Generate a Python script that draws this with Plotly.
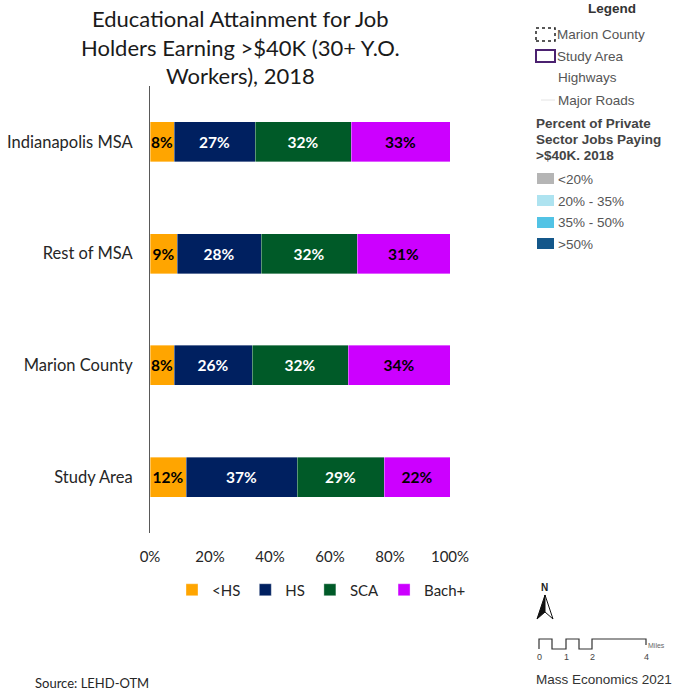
import plotly.graph_objects as go

# ---- data -------------------------------------------------------------
areas = ["Indianapolis MSA", "Rest of MSA", "Marion County", "Study Area"]
less_hs = [8, 9, 8, 12]
hs = [27, 28, 26, 37]
sca = [32, 32, 32, 29]
bach_plus = [33, 31, 34, 22]
x_ticks = [0, 20, 40, 60, 80, 100]
x_tick_labels = ["0%", "20%", "40%", "60%", "80%", "100%"]

series = [
    ("<HS", less_hs, "#FFA500", "#000000"),
    ("HS", hs, "#002060", "#FFFFFF"),
    ("SCA", sca, "#005A28", "#FFFFFF"),
    ("Bach+", bach_plus, "#CC00FF", "#000000"),
]

# ---- page geometry ----------------------------------------------------
W, H = 686, 692
ML, MR, MT, MB = 150, 236, 86, 159
PW, PH = W - ML - MR, H - MT - MB


def fx(x):
    return (x - ML) / PW


def fy(y):
    return (H - MB - y) / PH


BODY = "Lato, 'Open Sans', sans-serif"
MAPFONT = "'Liberation Sans', Arial, sans-serif"

fig = go.Figure()
for name, vals, color, tcolor in series:
    fig.add_trace(go.Bar(
        name=name,
        y=areas,
        x=vals,
        orientation="h",
        marker=dict(color=color, line=dict(color="rgba(255,255,255,0.6)", width=0.6)),
        text=[f"{v}%" for v in vals],
        textposition="inside",
        insidetextanchor="middle",
        textangle=0,
        constraintext="none",
        textfont=dict(family=BODY, size=15.5, color=tcolor, weight="bold"),
        hoverinfo="skip",
    ))

fig.update_layout(
    width=W, height=H,
    margin=dict(l=ML, r=MR, t=MT, b=MB, autoexpand=False),
    barmode="stack",
    bargap=0.64,
    plot_bgcolor="white",
    paper_bgcolor="white",
    font=dict(family=BODY, size=15, color="#262626"),
    showlegend=True,
    legend=dict(
        orientation="h",
        x=fx(172), xanchor="left",
        y=fy(590), yanchor="middle",
        font=dict(family=BODY, size=15, color="#262626"),
        itemwidth=30,
        traceorder="normal",
        bgcolor="rgba(0,0,0,0)",
    ),
)

fig.update_xaxes(
    range=[0, 100],
    tickvals=x_ticks,
    ticktext=x_tick_labels,
    showgrid=False,
    zeroline=False,
    showline=False,
    ticks="outside", ticklen=10, tickcolor="rgba(0,0,0,0)",
    tickfont=dict(family=BODY, size=15, color="#262626"),
    automargin=False,
    fixedrange=True,
)
fig.update_yaxes(
    autorange="reversed",
    showgrid=False,
    showline=True, linecolor="#595959", linewidth=1,
    ticks="outside", ticklen=13, tickcolor="rgba(0,0,0,0)",
    tickfont=dict(family=BODY, size=16.5, color="#262626"),
    automargin=False,
    fixedrange=True,
)

ann = []
shp = []


def note(txt, x, y, size, color, family=BODY, bold=False, anchor="left", yanchor="middle"):
    ann.append(dict(
        text=txt, xref="paper", yref="paper", x=fx(x), y=fy(y),
        xanchor=anchor, yanchor=yanchor, showarrow=False,
        align="center" if anchor == "center" else "left",
        font=dict(family=family, size=size, color=color,
                  weight="bold" if bold else "normal"),
    ))


# chart title and source note
note("Educational Attainment for Job<br>Holders Earning >$40K (30+ Y.O.<br>Workers), 2018",
     240, 3, 22, "#1a1a1a", anchor="center", yanchor="top")
note("Source: LEHD-OTM", 33, 683, 13, "#262626")


# ---- map legend panel -------------------------------------------------
def label(txt, x, y, size=13.5, color="#555555", bold=False, anchor="left"):
    note(txt, x, y, size, color, family=MAPFONT, bold=bold, anchor=anchor)


def rect(x0, y0, x1, y1, fill="rgba(0,0,0,0)", line="rgba(0,0,0,0)", width=1, dash="solid"):
    shp.append(dict(
        type="rect", xref="paper", yref="paper",
        x0=fx(x0), x1=fx(x1), y0=fy(y1), y1=fy(y0),
        fillcolor=fill, line=dict(color=line, width=width, dash=dash),
    ))


def path(points, fill="rgba(0,0,0,0)", line="#000000", width=1, closed=False):
    d = "M " + " L ".join(f"{fx(x):.5f},{fy(y):.5f}" for x, y in points)
    if closed:
        d += " Z"
    shp.append(dict(type="path", xref="paper", yref="paper", path=d,
                    fillcolor=fill, line=dict(color=line, width=width)))


label("Legend", 612, 8, size=13.5, color="#333333", bold=True, anchor="center")
rect(536, 28, 555, 41, line="#222222", width=1.5, dash="dot")
label("Marion County", 555, 34)
rect(536, 50, 555, 62, line="#4b2170", width=2)
label("Study Area", 555, 56)
label("Highways", 556, 78)
path([(541, 100), (555, 100)], line="#e4e4e4", width=1)
label("Major Roads", 556, 100)
for txt, y in [("Percent of Private", 123), ("Sector Jobs Paying", 139), (">$40K. 2018", 155)]:
    label(txt, 534, y, size=13.5, color="#444444", bold=True)

swatches = [("<20%", "#b5b5b5", 173), ("20% - 35%", "#aee3f0", 195),
            ("35% - 50%", "#52c3e5", 217), (">50%", "#14578a", 238)]
for txt, col, top in swatches:
    rect(537, top, 554, top + 11, fill=col, line="rgba(0,0,0,0)")
    label(txt, 556, top + 6)

# north arrow
label("N", 544, 587, size=10, color="#222222", bold=True, anchor="center")
path([(545, 595), (537, 619), (545, 612)], fill="#111111", line="#111111", closed=True)
path([(545, 595), (553, 619), (545, 612)], fill="#ffffff", line="#111111", closed=True)

# scale bar
path([(539, 649), (539, 639), (552, 639), (552, 649), (566, 649), (566, 639),
      (579, 639), (579, 649), (592, 649), (592, 639), (646, 639), (646, 645)],
     line="#333333", width=1.2)
for txt, x in [("0", 539), ("1", 566), ("2", 592), ("4", 646)]:
    label(txt, x, 657, size=9, color="#444444", anchor="center")
label("Miles", 646, 645, size=7, color="#666666")
label("Mass Economics 2021", 534, 679, size=13.5, color="#333333")

fig.update_layout(annotations=ann, shapes=shp)

fig.write_html("out.html")
